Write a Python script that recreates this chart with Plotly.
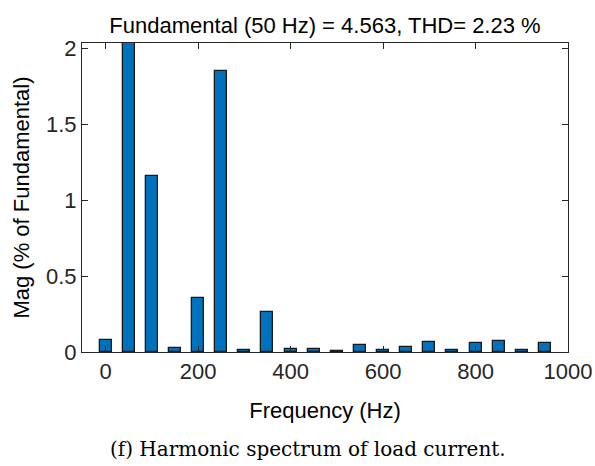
import plotly.graph_objects as go

freq = [0, 50, 100, 150, 200, 250, 300, 350, 400, 450, 500, 550, 600, 650, 700, 750, 800, 850, 900, 950]
mag = [0.081, 100.0, 1.158, 0.028, 0.355, 1.849, 0.015, 0.263, 0.017, 0.017, 0.007, 0.044, 0.011, 0.035, 0.066, 0.015, 0.061, 0.070, 0.010, 0.061]
x_ticks = [0, 200, 400, 600, 800, 1000]
y_ticks = [0, 0.5, 1, 1.5, 2]
y_tick_labels = ["0", "0.5", "1", "1.5", "2"]
title_text = "Fundamental (50 Hz) = 4.563, THD= 2.23 %"
caption = "(f) Harmonic spectrum of load current."

axcol = "#262626"
font_sans = "Liberation Sans, Arial, sans-serif"
fs = 22

fig = go.Figure()
fig.add_trace(go.Bar(
    x=freq, y=mag, width=26,
    marker=dict(color="#0072BD", line=dict(color="#1a1a1a", width=1.3)),
    showlegend=False,
))

W, H = 595, 466
l, r, t, b = 82, 27, 43, 113.5

fig.update_layout(
    width=W, height=H,
    margin=dict(l=l, r=r, t=t, b=b, autoexpand=False),
    paper_bgcolor="white", plot_bgcolor="white",
    font=dict(family=font_sans, size=fs, color=axcol),
    title=dict(text=title_text, x=(l + (W - r)) / 2 / W, xanchor="center",
               y=1 - 25 / H, yanchor="middle", yref="container",
               font=dict(family=font_sans, size=fs, color="black")),
    bargap=0,
)
fig.update_xaxes(
    range=[-51, 1000], tickvals=x_ticks, ticks="inside", ticklen=6, tickcolor=axcol,
    showline=True, linecolor=axcol, linewidth=1, mirror="ticks", showgrid=False,
    zeroline=False, tickfont=dict(size=fs, color=axcol), automargin=False,
    title=dict(text="Frequency (Hz)", font=dict(size=fs, color="black"), standoff=19),
)
fig.update_yaxes(
    range=[0, 2.033], tickvals=y_ticks, ticktext=y_tick_labels, ticks="inside", ticklen=6,
    tickcolor=axcol, showline=True, linecolor=axcol, linewidth=1, mirror="ticks",
    showgrid=False, zeroline=False, tickfont=dict(size=fs, color=axcol), automargin=False,
    title=dict(text="Mag (% of Fundamental)", font=dict(size=fs, color="black"), standoff=10),
)
fig.add_annotation(
    text=caption, xref="paper", yref="paper", x=(308 - l) / (W - l - r), y=-(450 - (H - b)) / (H - t - b),
    xanchor="center", yanchor="middle", showarrow=False,
    font=dict(family="DejaVu Serif, serif", size=20, color="black"),
)
fig.write_html("out.html")
